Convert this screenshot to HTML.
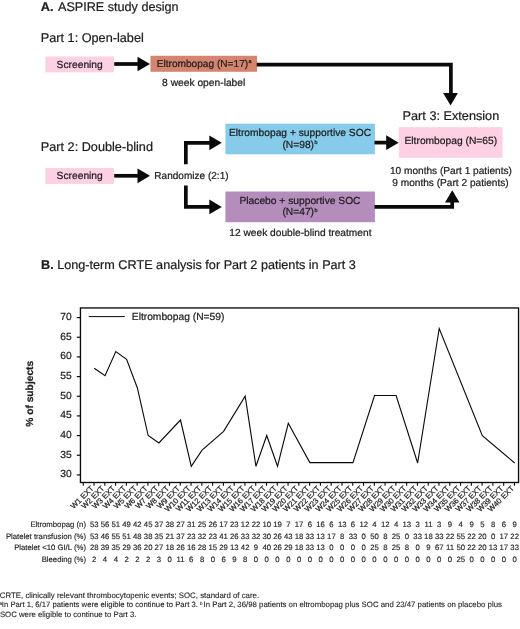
<!DOCTYPE html>
<html lang="en"><head><meta charset="utf-8"><title>ASPIRE study design</title>
<style>
html,body{margin:0;padding:0;background:#fff;}
body{width:520px;height:629px;overflow:hidden;}
svg{display:block;font-family:"Liberation Sans",Arial,Helvetica,sans-serif;fill:#1d1d1d;text-rendering:geometricPrecision;}
text{stroke:#1d1d1d;stroke-width:0.22px;}
.h{font-size:12.7px;}
.s{font-size:10.25px;}
.t,.t text{font-size:7.75px;stroke-width:0.14px;}
.x{font-size:7.75px;stroke-width:0.2px;}
.f{font-size:7.8px;stroke-width:0.1px;}
.b{font-weight:bold;}
.m{text-anchor:middle;}
.e{text-anchor:end;}
.sup{font-size:53%;}
.sup2{font-size:58%;}
.ar{fill:none;stroke:#0a0a0a;stroke-width:3.7;stroke-linejoin:miter;}
.hd{fill:#0a0a0a;stroke:none;}
</style></head><body>
<svg width="520" height="629" viewBox="0 0 520 629">
<rect x="0" y="0" width="520" height="629" fill="#fff"/>

<text class="h" x="40.8" y="10.7"><tspan class="b">A. </tspan><tspan x="58.0" style="font-size:12.62px">ASPIRE study design</tspan></text>
<text class="h" x="40.8" y="41.5">Part 1: Open-label</text>
<text class="h" x="40.8" y="151.3">Part 2: Double-blind</text>
<text class="h" x="402.6" y="119.5">Part 3: Extension</text>
<text class="h" style="font-size:12.66px" x="41.0" y="269.3"><tspan class="b">B.</tspan> Long-term CRTE analysis for Part 2 patients in Part 3</text>
<rect x="45.3" y="56.5" width="68.6" height="15.8" fill="#fdd0e3"/>
<text class="s m" x="79.7" y="67.7">Screening</text>
<rect x="150.5" y="55.8" width="106.6" height="16" fill="#d5856f"/>
<text class="s" style="font-size:10.15px" x="156.7" y="66.8">Eltrombopag (N=17)<tspan class="sup" dx="0.3" dy="-3.7">a</tspan></text>
<text class="s m" x="203.7" y="86.2">8 week open-label</text>
<rect x="45.3" y="167.9" width="68.6" height="16" fill="#fdd0e3"/>
<text class="s m" x="79.7" y="179.1">Screening</text>
<text class="s" style="font-size:10.05px" x="154.3" y="178.8">Randomize (2:1)</text>
<rect x="225.4" y="123.7" width="149.5" height="30.6" fill="#86cbea"/>
<text class="s m" x="300" y="136.1">Eltrombopag + supportive SOC</text>
<text class="s m" x="300" y="147.6"><tspan>(N=98)</tspan><tspan class="sup" dx="0.5" dy="-3.6">b</tspan></text>
<rect x="225.4" y="191.5" width="149.5" height="30.7" fill="#b48dbd"/>
<text class="s m" x="300" y="203.5">Placebo + supportive SOC</text>
<text class="s m" x="300" y="215.2"><tspan>(N=47)</tspan><tspan class="sup" dx="0.5" dy="-3.6">b</tspan></text>
<text class="s m" style="font-size:10.2px" x="300.4" y="235.8">12 week double-blind treatment</text>
<rect x="398.8" y="127.2" width="103.7" height="30.6" fill="#fdd0e3"/>
<text class="s m" x="450.8" y="143.7">Eltrombopag (N=65)</text>
<text class="s m" style="font-size:10.12px" x="450.9" y="173.8">10 months (Part 1 patients)</text>
<text class="s m" style="font-size:10.12px" x="450.5" y="185.9">9 months (Part 2 patients)</text>
<path class="ar" d="M114.2 64H140"/><path class="hd" d="M137.5 56.7L150 64L137.5 71.3Z"/>
<path class="ar" d="M114.2 175.8H140"/><path class="hd" d="M137.5 168.4L150 175.8L137.5 183.2Z"/>
<path class="ar" d="M256.7 64.6H450.9V94"/><path class="hd" d="M443.1 93.1H457.9L450.6 105.6Z"/>
<path class="ar" d="M185.85 164.2V142.8H211"/><path class="hd" d="M209.3 135.4L221.8 142.8L209.3 150.2Z"/>
<path class="ar" d="M185.85 185.5V206.9H211"/><path class="hd" d="M209.3 199.5L221.8 206.9L209.3 214.3Z"/>
<path class="ar" d="M374.5 142.6H388"/><path class="hd" d="M386.2 135.3L398.7 142.7L386.2 150.1Z"/>
<path class="ar" d="M374.5 206.95H452.2V201"/><path class="hd" d="M445 202.5L452.25 190.2L459.5 202.5Z"/>
<rect x="80.45" y="307.95" width="438.1" height="174.55" fill="none" stroke="#0a0a0a" stroke-width="1.35"/>
<path d="M76.8 474.90H80.6" stroke="#0a0a0a" stroke-width="1.2" fill="none"/>
<text class="s e" x="71.7" y="477.20">30</text>
<path d="M76.8 455.24H80.6" stroke="#0a0a0a" stroke-width="1.2" fill="none"/>
<text class="s e" x="71.7" y="457.54">35</text>
<path d="M76.8 435.57H80.6" stroke="#0a0a0a" stroke-width="1.2" fill="none"/>
<text class="s e" x="71.7" y="437.88">40</text>
<path d="M76.8 415.91H80.6" stroke="#0a0a0a" stroke-width="1.2" fill="none"/>
<text class="s e" x="71.7" y="418.21">45</text>
<path d="M76.8 396.25H80.6" stroke="#0a0a0a" stroke-width="1.2" fill="none"/>
<text class="s e" x="71.7" y="398.55">50</text>
<path d="M76.8 376.59H80.6" stroke="#0a0a0a" stroke-width="1.2" fill="none"/>
<text class="s e" x="71.7" y="378.89">55</text>
<path d="M76.8 356.92H80.6" stroke="#0a0a0a" stroke-width="1.2" fill="none"/>
<text class="s e" x="71.7" y="359.22">60</text>
<path d="M76.8 337.26H80.6" stroke="#0a0a0a" stroke-width="1.2" fill="none"/>
<text class="s e" x="71.7" y="339.56">65</text>
<path d="M76.8 317.60H80.6" stroke="#0a0a0a" stroke-width="1.2" fill="none"/>
<text class="s e" x="71.7" y="319.90">70</text>
<path d="M83.25 482.4V485.7M94.03 482.4V485.7M104.81 482.4V485.7M115.59 482.4V485.7M126.37 482.4V485.7M137.15 482.4V485.7M147.93 482.4V485.7M158.71 482.4V485.7M169.49 482.4V485.7M180.27 482.4V485.7M191.05 482.4V485.7M201.83 482.4V485.7M212.61 482.4V485.7M223.39 482.4V485.7M234.17 482.4V485.7M244.95 482.4V485.7M255.73 482.4V485.7M266.51 482.4V485.7M277.29 482.4V485.7M288.07 482.4V485.7M298.85 482.4V485.7M309.63 482.4V485.7M320.41 482.4V485.7M331.19 482.4V485.7M341.97 482.4V485.7M352.75 482.4V485.7M363.53 482.4V485.7M374.31 482.4V485.7M385.09 482.4V485.7M395.87 482.4V485.7M406.65 482.4V485.7M417.43 482.4V485.7M428.21 482.4V485.7M438.99 482.4V485.7M449.77 482.4V485.7M460.55 482.4V485.7M471.33 482.4V485.7M482.11 482.4V485.7M492.89 482.4V485.7M503.67 482.4V485.7M514.45 482.4V485.7" stroke="#0a0a0a" stroke-width="1.1" fill="none"/>
<text class="x e" transform="translate(94.15 488.90) rotate(-45)">W1 EXT</text>
<text class="x e" transform="translate(104.93 488.90) rotate(-45)">W2 EXT</text>
<text class="x e" transform="translate(115.71 488.90) rotate(-45)">W3 EXT</text>
<text class="x e" transform="translate(126.49 488.90) rotate(-45)">W4 EXT</text>
<text class="x e" transform="translate(137.27 488.90) rotate(-45)">W5 EXT</text>
<text class="x e" transform="translate(148.05 488.90) rotate(-45)">W6 EXT</text>
<text class="x e" transform="translate(158.83 488.90) rotate(-45)">W7 EXT</text>
<text class="x e" transform="translate(169.61 488.90) rotate(-45)">W8 EXT</text>
<text class="x e" transform="translate(180.39 488.90) rotate(-45)">W9 EXT</text>
<text class="x e" transform="translate(191.17 488.90) rotate(-45)">W10 EXT</text>
<text class="x e" transform="translate(201.95 488.90) rotate(-45)">W11 EXT</text>
<text class="x e" transform="translate(212.73 488.90) rotate(-45)">W12 EXT</text>
<text class="x e" transform="translate(223.51 488.90) rotate(-45)">W13 EXT</text>
<text class="x e" transform="translate(234.29 488.90) rotate(-45)">W14 EXT</text>
<text class="x e" transform="translate(245.07 488.90) rotate(-45)">W15 EXT</text>
<text class="x e" transform="translate(255.85 488.90) rotate(-45)">W16 EXT</text>
<text class="x e" transform="translate(266.63 488.90) rotate(-45)">W17 EXT</text>
<text class="x e" transform="translate(277.41 488.90) rotate(-45)">W18 EXT</text>
<text class="x e" transform="translate(288.19 488.90) rotate(-45)">W19 EXT</text>
<text class="x e" transform="translate(298.97 488.90) rotate(-45)">W20 EXT</text>
<text class="x e" transform="translate(309.75 488.90) rotate(-45)">W21 EXT</text>
<text class="x e" transform="translate(320.53 488.90) rotate(-45)">W22 EXT</text>
<text class="x e" transform="translate(331.31 488.90) rotate(-45)">W23 EXT</text>
<text class="x e" transform="translate(342.09 488.90) rotate(-45)">W24 EXT</text>
<text class="x e" transform="translate(352.87 488.90) rotate(-45)">W25 EXT</text>
<text class="x e" transform="translate(363.65 488.90) rotate(-45)">W26 EXT</text>
<text class="x e" transform="translate(374.43 488.90) rotate(-45)">W27 EXT</text>
<text class="x e" transform="translate(385.21 488.90) rotate(-45)">W28 EXT</text>
<text class="x e" transform="translate(395.99 488.90) rotate(-45)">W29 EXT</text>
<text class="x e" transform="translate(406.77 488.90) rotate(-45)">W30 EXT</text>
<text class="x e" transform="translate(417.55 488.90) rotate(-45)">W31 EXT</text>
<text class="x e" transform="translate(428.33 488.90) rotate(-45)">W32 EXT</text>
<text class="x e" transform="translate(439.11 488.90) rotate(-45)">W33 EXT</text>
<text class="x e" transform="translate(449.89 488.90) rotate(-45)">W34 EXT</text>
<text class="x e" transform="translate(460.67 488.90) rotate(-45)">W35 EXT</text>
<text class="x e" transform="translate(471.45 488.90) rotate(-45)">W36 EXT</text>
<text class="x e" transform="translate(482.23 488.90) rotate(-45)">W37 EXT</text>
<text class="x e" transform="translate(493.01 488.90) rotate(-45)">W38 EXT</text>
<text class="x e" transform="translate(503.79 488.90) rotate(-45)">W39 EXT</text>
<text class="x e" transform="translate(514.57 488.90) rotate(-45)">W40 EXT</text>
<text class="s b m" transform="translate(33.4 393.8) rotate(-90)">% of subjects</text>
<path d="M88.7 316.6H124.8" stroke="#0a0a0a" stroke-width="1" fill="none"/>
<text class="s" x="131.8" y="319.8">Eltrombopag (N=59)</text>
<polyline points="94.25,368.20 105.03,375.75 115.81,351.60 126.59,359.30 137.37,388.00 148.15,435.50 158.93,443.00 180.49,420.00 191.27,466.30 202.05,450.20 223.61,431.30 245.17,396.20 255.95,466.30 266.73,435.50 277.51,466.30 288.29,423.30 309.85,462.60 352.97,462.60 374.53,395.50 396.09,395.50 417.65,463.00 439.21,328.50 482.33,435.70 514.67,463.00" fill="none" stroke="#0a0a0a" stroke-width="1.12" stroke-linejoin="miter"/>
<text class="t e" x="86.0" y="527.0">Eltrombopag (n)</text>
<g class="t m"><text x="94.25" y="527.0">53</text> <text x="105.03" y="527.0">56</text> <text x="115.81" y="527.0">51</text> <text x="126.59" y="527.0">49</text> <text x="137.37" y="527.0">42</text> <text x="148.15" y="527.0">45</text> <text x="158.93" y="527.0">37</text> <text x="169.71" y="527.0">38</text> <text x="180.49" y="527.0">27</text> <text x="191.27" y="527.0">31</text> <text x="202.05" y="527.0">25</text> <text x="212.83" y="527.0">26</text> <text x="223.61" y="527.0">17</text> <text x="234.39" y="527.0">23</text> <text x="245.17" y="527.0">12</text> <text x="255.95" y="527.0">22</text> <text x="266.73" y="527.0">10</text> <text x="277.51" y="527.0">19</text> <text x="288.29" y="527.0">7</text> <text x="299.07" y="527.0">17</text> <text x="309.85" y="527.0">6</text> <text x="320.63" y="527.0">16</text> <text x="331.41" y="527.0">6</text> <text x="342.19" y="527.0">13</text> <text x="352.97" y="527.0">6</text> <text x="363.75" y="527.0">12</text> <text x="374.53" y="527.0">4</text> <text x="385.31" y="527.0">12</text> <text x="396.09" y="527.0">4</text> <text x="406.87" y="527.0">13</text> <text x="417.65" y="527.0">3</text> <text x="428.43" y="527.0">11</text> <text x="439.21" y="527.0">3</text> <text x="449.99" y="527.0">9</text> <text x="460.77" y="527.0">4</text> <text x="471.55" y="527.0">9</text> <text x="482.33" y="527.0">5</text> <text x="493.11" y="527.0">8</text> <text x="503.89" y="527.0">6</text> <text x="514.67" y="527.0">9</text></g>
<text class="t e" x="86.0" y="538.7">Platelet transfusion (%)</text>
<g class="t m"><text x="94.25" y="538.7">53</text> <text x="105.03" y="538.7">46</text> <text x="115.81" y="538.7">55</text> <text x="126.59" y="538.7">51</text> <text x="137.37" y="538.7">48</text> <text x="148.15" y="538.7">38</text> <text x="158.93" y="538.7">35</text> <text x="169.71" y="538.7">21</text> <text x="180.49" y="538.7">37</text> <text x="191.27" y="538.7">23</text> <text x="202.05" y="538.7">32</text> <text x="212.83" y="538.7">23</text> <text x="223.61" y="538.7">41</text> <text x="234.39" y="538.7">26</text> <text x="245.17" y="538.7">33</text> <text x="255.95" y="538.7">32</text> <text x="266.73" y="538.7">30</text> <text x="277.51" y="538.7">26</text> <text x="288.29" y="538.7">43</text> <text x="299.07" y="538.7">18</text> <text x="309.85" y="538.7">33</text> <text x="320.63" y="538.7">13</text> <text x="331.41" y="538.7">17</text> <text x="342.19" y="538.7">8</text> <text x="352.97" y="538.7">33</text> <text x="363.75" y="538.7">0</text> <text x="374.53" y="538.7">50</text> <text x="385.31" y="538.7">8</text> <text x="396.09" y="538.7">25</text> <text x="406.87" y="538.7">0</text> <text x="417.65" y="538.7">33</text> <text x="428.43" y="538.7">18</text> <text x="439.21" y="538.7">33</text> <text x="449.99" y="538.7">22</text> <text x="460.77" y="538.7">55</text> <text x="471.55" y="538.7">22</text> <text x="482.33" y="538.7">20</text> <text x="493.11" y="538.7">0</text> <text x="503.89" y="538.7">17</text> <text x="514.67" y="538.7">22</text></g>
<text class="t e" x="86.0" y="549.9">Platelet &lt;10 GI/L (%)</text>
<g class="t m"><text x="94.25" y="549.9">28</text> <text x="105.03" y="549.9">39</text> <text x="115.81" y="549.9">35</text> <text x="126.59" y="549.9">29</text> <text x="137.37" y="549.9">36</text> <text x="148.15" y="549.9">20</text> <text x="158.93" y="549.9">27</text> <text x="169.71" y="549.9">18</text> <text x="180.49" y="549.9">26</text> <text x="191.27" y="549.9">16</text> <text x="202.05" y="549.9">28</text> <text x="212.83" y="549.9">15</text> <text x="223.61" y="549.9">29</text> <text x="234.39" y="549.9">13</text> <text x="245.17" y="549.9">42</text> <text x="255.95" y="549.9">9</text> <text x="266.73" y="549.9">40</text> <text x="277.51" y="549.9">26</text> <text x="288.29" y="549.9">29</text> <text x="299.07" y="549.9">18</text> <text x="309.85" y="549.9">33</text> <text x="320.63" y="549.9">13</text> <text x="331.41" y="549.9">0</text> <text x="342.19" y="549.9">0</text> <text x="352.97" y="549.9">0</text> <text x="363.75" y="549.9">0</text> <text x="374.53" y="549.9">25</text> <text x="385.31" y="549.9">8</text> <text x="396.09" y="549.9">25</text> <text x="406.87" y="549.9">8</text> <text x="417.65" y="549.9">0</text> <text x="428.43" y="549.9">9</text> <text x="439.21" y="549.9">67</text> <text x="449.99" y="549.9">11</text> <text x="460.77" y="549.9">50</text> <text x="471.55" y="549.9">22</text> <text x="482.33" y="549.9">20</text> <text x="493.11" y="549.9">13</text> <text x="503.89" y="549.9">17</text> <text x="514.67" y="549.9">33</text></g>
<text class="t e" x="86.0" y="561.7">Bleeding (%)</text>
<g class="t m"><text x="94.25" y="561.7">2</text> <text x="105.03" y="561.7">4</text> <text x="115.81" y="561.7">4</text> <text x="126.59" y="561.7">2</text> <text x="137.37" y="561.7">2</text> <text x="148.15" y="561.7">2</text> <text x="158.93" y="561.7">3</text> <text x="169.71" y="561.7">0</text> <text x="180.49" y="561.7">11</text> <text x="191.27" y="561.7">6</text> <text x="202.05" y="561.7">8</text> <text x="212.83" y="561.7">0</text> <text x="223.61" y="561.7">6</text> <text x="234.39" y="561.7">9</text> <text x="245.17" y="561.7">8</text> <text x="255.95" y="561.7">0</text> <text x="266.73" y="561.7">0</text> <text x="277.51" y="561.7">0</text> <text x="288.29" y="561.7">0</text> <text x="299.07" y="561.7">0</text> <text x="309.85" y="561.7">0</text> <text x="320.63" y="561.7">0</text> <text x="331.41" y="561.7">0</text> <text x="342.19" y="561.7">0</text> <text x="352.97" y="561.7">0</text> <text x="363.75" y="561.7">0</text> <text x="374.53" y="561.7">0</text> <text x="385.31" y="561.7">0</text> <text x="396.09" y="561.7">0</text> <text x="406.87" y="561.7">0</text> <text x="417.65" y="561.7">0</text> <text x="428.43" y="561.7">0</text> <text x="439.21" y="561.7">0</text> <text x="449.99" y="561.7">0</text> <text x="460.77" y="561.7">25</text> <text x="471.55" y="561.7">0</text> <text x="482.33" y="561.7">0</text> <text x="493.11" y="561.7">0</text> <text x="503.89" y="561.7">0</text> <text x="514.67" y="561.7">0</text></g>
<text class="f" style="font-size:7.86px" x="-0.2" y="597.5">CRTE, clinically relevant thrombocytopenic events; SOC, standard of care.</text>
<text class="f" style="font-size:7.73px" x="-0.3" y="607.3"><tspan class="sup2" dy="-2.6">a</tspan><tspan dy="2.6" x="1.8">In Part 1, 6/17 patients were eligible to continue to Part 3.</tspan></text>
<text class="f" style="font-size:7.82px" x="200.1" y="607.4"><tspan class="sup2" dy="-2.6">b</tspan><tspan dy="2.6" x="203.5">In Part 2, 36/98 patients on eltrombopag plus SOC and 23/47 patients on placebo plus</tspan></text>
<text class="f" x="-0.1" y="617.1">SOC were eligible to continue to Part 3.</text>
</svg></body></html>
